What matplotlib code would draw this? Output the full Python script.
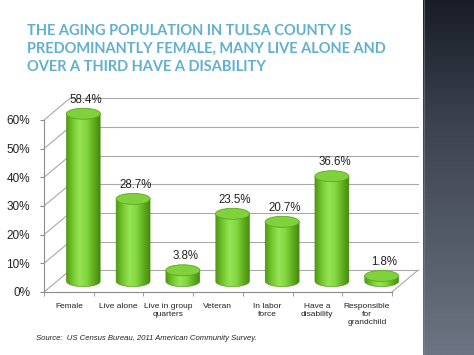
import numpy as np
import matplotlib
matplotlib.use("Agg")
import matplotlib.pyplot as plt
from matplotlib.path import Path
from matplotlib.patches import PathPatch, Ellipse
from matplotlib.colors import LinearSegmentedColormap

# data
categories = ["Female", "Live alone", "Live in group\nquarters", "Veteran",
              "In labor\nforce", "Have a\ndisability", "Responsible\nfor\ngrandchild"]
values = [58.4, 28.7, 3.8, 23.5, 20.7, 36.6, 1.8]
yticks = [0, 10, 20, 30, 40, 50, 60]
title = ("THE AGING POPULATION IN TULSA COUNTY IS\n"
         "PREDOMINANTLY FEMALE, MANY LIVE ALONE AND\n"
         "OVER A THIRD HAVE A DISABILITY")
source = "Source:  US Census Bureau, 2011 American Community Survey."

W, H = 474, 355
fig = plt.figure(figsize=(W / 100, H / 100), dpi=100)
fig.patch.set_facecolor("white")

# dark strip on the right of the slide
strip = fig.add_axes([423 / W, 0, 1 - 423 / W, 1])
grad = np.linspace(0, 1, 256).reshape(-1, 1)
strip_cmap = LinearSegmentedColormap.from_list("strip", ["#181d27", "#3b424d", "#535b67", "#6d7483"])
strip.imshow(grad, aspect="auto", cmap=strip_cmap, extent=[0, 1, 0, 1], origin="upper")
strip.axvline(0.02, color="#7a8290", lw=0.8, alpha=0.6)
strip.axis("off")

# fake 3d: depth offset of the back wall, in data units
px_cat = 49.7    # pixels per category
px_pct = 2.867   # pixels per percent
dx = 26 / px_cat
dy = 21.7 / px_pct
n = len(categories)

left_px, base_px, top_px = 44, 292, 88
ax = fig.add_axes([left_px / W, (H - base_px) / H, (423 - left_px) / W, (base_px - top_px) / H])
ax.patch.set_alpha(0)

grid_c = "#a9a9a9"
for v in yticks:
    ax.plot([0, dx], [v, v + dy], color=grid_c, lw=0.8, zorder=1)
    ax.plot([dx, n + dx], [v + dy, v + dy], color=grid_c, lw=0.8, zorder=1)
ax.plot([n, n + dx], [0, dy], color=grid_c, lw=0.8, zorder=1)

for s in ["top", "right"]:
    ax.spines[s].set_visible(False)
for s in ["left", "bottom"]:
    ax.spines[s].set_color("#8c8c8c")
    ax.spines[s].set_linewidth(0.8)
ax.spines["left"].set_bounds(0, 60)
ax.spines["bottom"].set_bounds(0, n)

ax.set_yticks(yticks)
ax.set_yticklabels([f"{v}%" for v in yticks], fontsize=8.5, family="Liberation Sans", color="#222222")
ax.tick_params(axis="y", length=3, color="#8c8c8c", pad=7)
ax.set_xticks(np.arange(n) + 0.5)
ax.set_xticklabels(categories, fontsize=6, family="Liberation Sans", color="#222222", linespacing=1.2)
ax.set_xticks(np.arange(n + 1), minor=True)
ax.tick_params(axis="x", which="major", length=0, pad=8)
ax.tick_params(axis="x", which="minor", length=3, color="#8c8c8c")

# cylinders
bw = 0.684
eh = 11 / px_pct
base = dy / 2
body_cmap = LinearSegmentedColormap.from_list(
    "body", ["#4f9a12", "#74c82e", "#96e455", "#84d840", "#62b020", "#468a0e"])
xgrad = np.linspace(0, 1, 256).reshape(1, -1)
for i, v in enumerate(values):
    cx = i + 0.5 + dx * 0.56
    top = base + v
    t = np.linspace(np.pi, 2 * np.pi, 40)
    arc = np.column_stack([cx + bw / 2 * np.cos(t), base + eh / 2 * np.sin(t)])
    verts = np.vstack([[cx - bw / 2, top], arc, [cx + bw / 2, top], [cx - bw / 2, top]])
    codes = [Path.MOVETO] + [Path.LINETO] * (len(verts) - 2) + [Path.CLOSEPOLY]
    body = PathPatch(Path(verts, codes), facecolor="none", edgecolor="#4a8c12", lw=0.4, zorder=3)
    ax.add_patch(body)
    im = ax.imshow(xgrad, aspect="auto", cmap=body_cmap,
                   extent=[cx - bw / 2, cx + bw / 2, base - eh / 2, top], zorder=2)
    im.set_clip_path(body)
    ax.add_patch(Ellipse((cx, top), bw, eh, facecolor="#7fd23c", edgecolor="#5ea81e", lw=0.6, zorder=4))
    ax.text(cx + 0.05, top + 2.8, f"{v}%", ha="center", va="bottom", fontsize=8.3,
            family="Liberation Sans", color="#222222", zorder=5)

ax.set_xlim(0, (423 - left_px) / px_cat)
ax.set_ylim(0, (base_px - top_px) / px_pct)

fig.text(27 / W, 1 - 24 / H, title, ha="left", va="top", fontsize=10.5, family="Lato",
         fontweight="bold", color="#62b0cd", linespacing=1.36)
fig.text(36 / W, 1 - 339 / H, source, ha="left", va="center", fontsize=5.6, family="Liberation Sans",
         style="italic", color="#222222")

fig.savefig("out.png", dpi=100)
